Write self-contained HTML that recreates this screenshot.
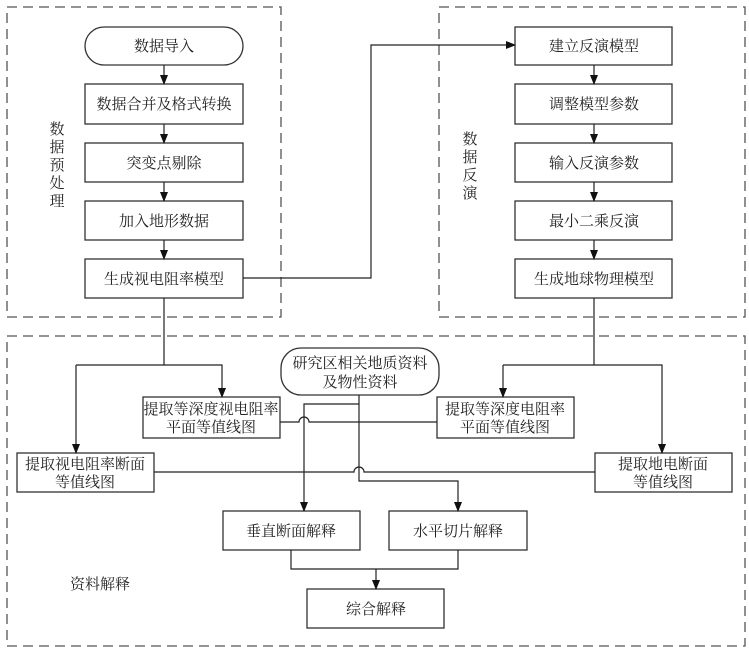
<!DOCTYPE html>
<html><head><meta charset="utf-8"><style>
html,body{margin:0;padding:0;background:#fff;}
svg{display:block;}
text{font-family:"Liberation Serif","Noto Serif CJK SC","Noto Sans CJK SC",serif;font-size:15px;fill:#222;}
</style></head><body>
<svg width="749" height="656" viewBox="0 0 749 656" xmlns="http://www.w3.org/2000/svg">
<defs>
<marker id="a" markerWidth="10" markerHeight="10" refX="9" refY="5" orient="auto" markerUnits="userSpaceOnUse">
<path d="M0,1 L10,5 L0,9 Z" fill="#111"/></marker>
</defs>
<g fill="none" stroke="#555" stroke-width="1.3" stroke-dasharray="10,6">
<rect x="7" y="7" width="274" height="310"/>
<rect x="439" y="7" width="306" height="310"/>
<rect x="7" y="336" width="738" height="310"/>
</g>
<g fill="#fff" stroke="#333" stroke-width="1.3">
<rect x="85" y="27" width="158" height="38" rx="19"/>
<rect x="85" y="84" width="158" height="40"/>
<rect x="85" y="143" width="158" height="39"/>
<rect x="85" y="201" width="158" height="39"/>
<rect x="85" y="259" width="158" height="39"/>
<rect x="515" y="27" width="157" height="38"/>
<rect x="515" y="84" width="157" height="40"/>
<rect x="515" y="143" width="157" height="39"/>
<rect x="515" y="201" width="157" height="39"/>
<rect x="515" y="259" width="157" height="39"/>
<rect x="281" y="348" width="158" height="47" rx="20"/>
<rect x="143" y="397" width="137" height="41"/>
<rect x="437" y="397" width="137" height="41"/>
<rect x="17" y="453" width="137" height="39"/>
<rect x="595" y="453" width="137" height="39"/>
<rect x="223" y="511" width="137" height="39"/>
<rect x="389" y="511" width="138" height="39"/>
<rect x="307" y="589" width="137" height="39"/>
</g>
<g fill="none" stroke="#222" stroke-width="1.2">
<line x1="164" y1="65" x2="164" y2="84" marker-end="url(#a)"/>
<line x1="164" y1="124" x2="164" y2="143" marker-end="url(#a)"/>
<line x1="164" y1="182" x2="164" y2="201" marker-end="url(#a)"/>
<line x1="164" y1="240" x2="164" y2="259" marker-end="url(#a)"/>
<line x1="594" y1="65" x2="594" y2="84" marker-end="url(#a)"/>
<line x1="594" y1="124" x2="594" y2="143" marker-end="url(#a)"/>
<line x1="594" y1="182" x2="594" y2="201" marker-end="url(#a)"/>
<line x1="594" y1="240" x2="594" y2="259" marker-end="url(#a)"/>
<polyline points="243,278 371,278 371,45 515,45" marker-end="url(#a)"/>
<line x1="164" y1="298" x2="164" y2="365"/>
<polyline points="76,365 76,453" marker-end="url(#a)"/>
<polyline points="76,365 222,365 222,397" marker-end="url(#a)"/>
<line x1="594" y1="298" x2="594" y2="365"/>
<polyline points="503,365 503,397" marker-end="url(#a)"/>
<polyline points="503,365 662,365 662,453" marker-end="url(#a)"/>
<polyline points="359,395 359,481 458,481 458,511" marker-end="url(#a)"/>
<polyline points="359,404 304,404 304,511" marker-end="url(#a)"/>
<path d="M280,422 L299,422 A5,5 0 0 1 309,422 L437,422"/>
<path d="M154,472 L354,472 A5,5 0 0 1 364,472 L595,472"/>
<polyline points="291,550 291,569 458,569 458,550"/>
<line x1="376" y1="569" x2="376" y2="589" marker-end="url(#a)"/>
</g>
<g text-anchor="middle">
<text x="164" y="51">数据导入</text>
<text x="164" y="109">数据合并及格式转换</text>
<text x="164" y="168">突变点剔除</text>
<text x="164" y="226">加入地形数据</text>
<text x="164" y="284">生成视电阻率模型</text>
<text x="594" y="51">建立反演模型</text>
<text x="594" y="109">调整模型参数</text>
<text x="594" y="168">输入反演参数</text>
<text x="594" y="226">最小二乘反演</text>
<text x="594" y="284">生成地球物理模型</text>
<text x="360" y="368">研究区相关地质资料</text>
<text x="360" y="387">及物性资料</text>
<text x="211" y="414">提取等深度视电阻率</text>
<text x="211" y="432">平面等值线图</text>
<text x="505" y="414">提取等深度电阻率</text>
<text x="505" y="432">平面等值线图</text>
<text x="85" y="469">提取视电阻率断面</text>
<text x="85" y="487">等值线图</text>
<text x="663" y="469">提取地电断面</text>
<text x="663" y="487">等值线图</text>
<text x="291" y="536">垂直断面解释</text>
<text x="458" y="536">水平切片解释</text>
<text x="376" y="614">综合解释</text>
<text x="57" y="134">数</text>
<text x="57" y="152">据</text>
<text x="57" y="170">预</text>
<text x="57" y="188">处</text>
<text x="57" y="206">理</text>
<text x="470" y="144">数</text>
<text x="470" y="162">据</text>
<text x="470" y="180">反</text>
<text x="470" y="198">演</text>
<text x="100" y="589">资料解释</text>
</g>
</svg>
</body></html>
